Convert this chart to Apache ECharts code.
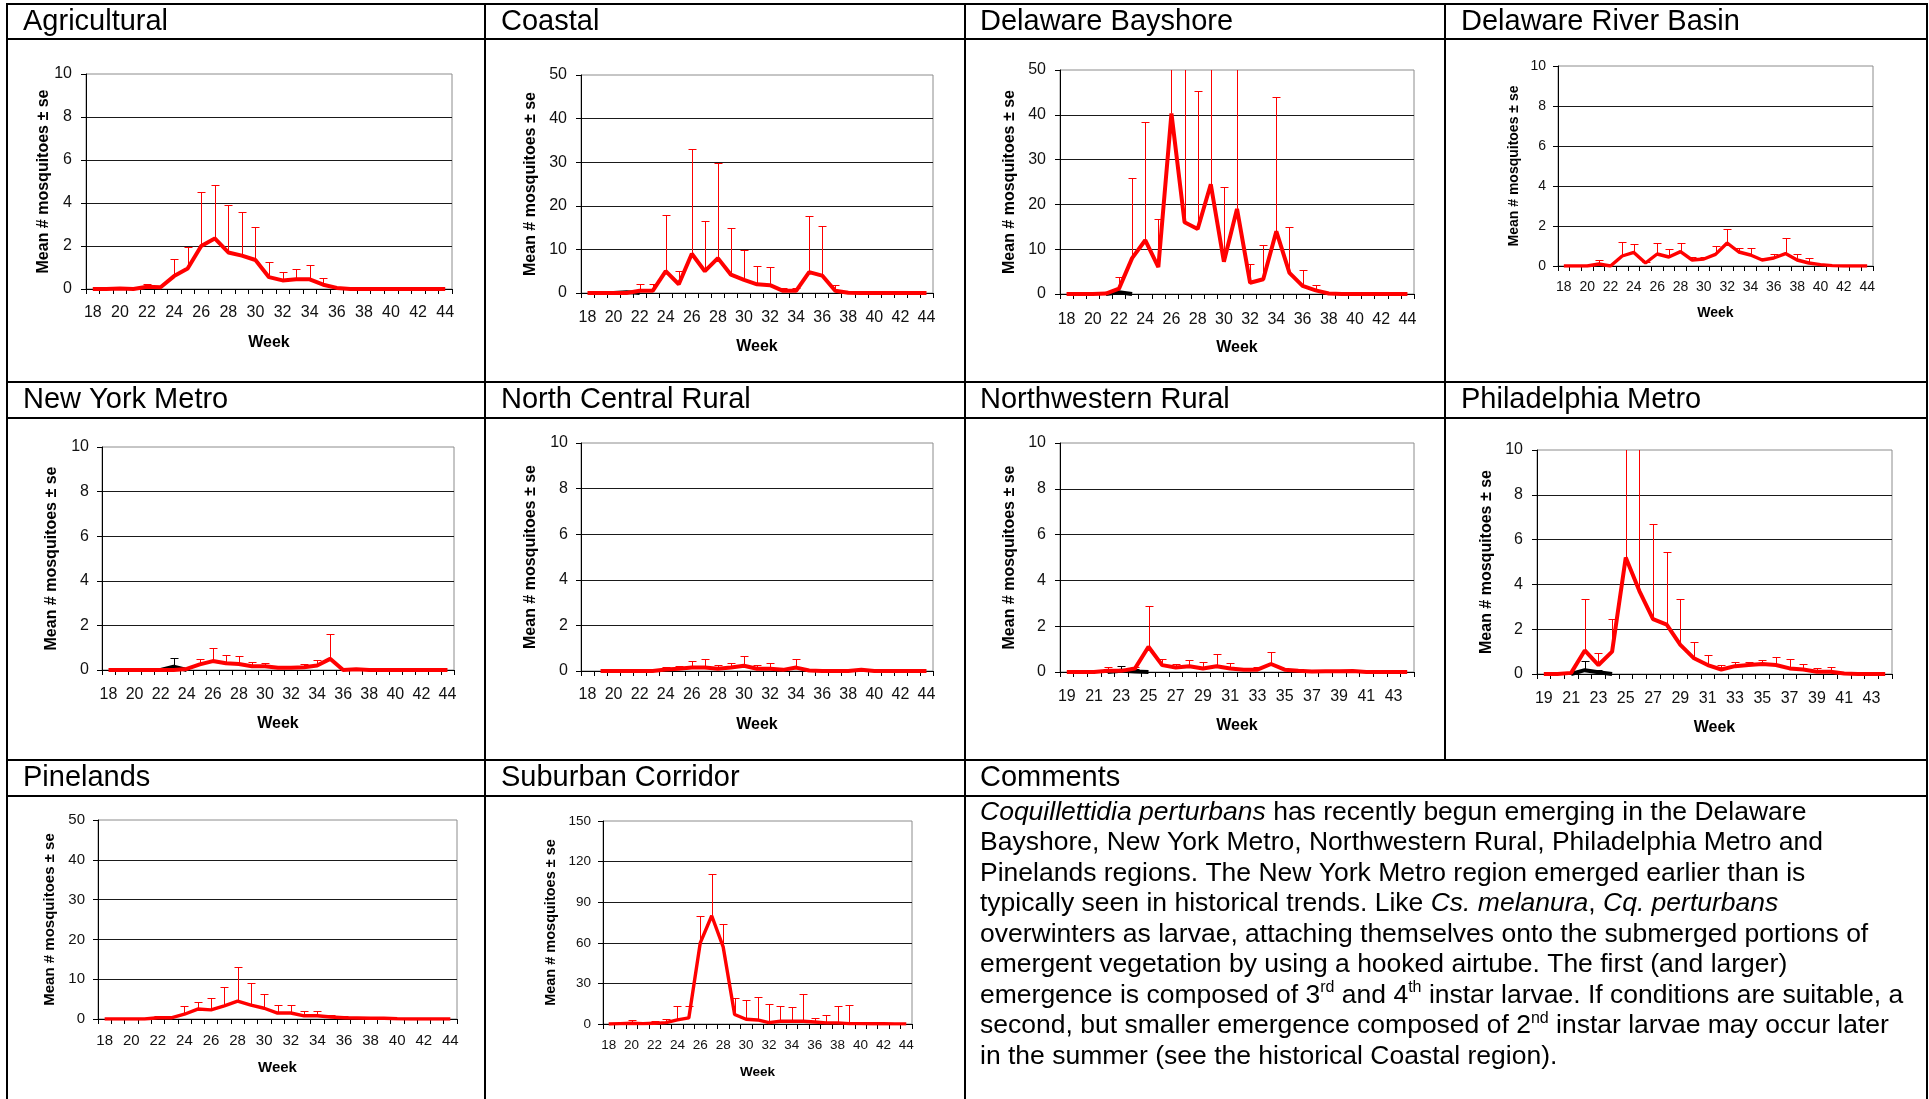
<!DOCTYPE html>
<html>
<head>
<meta charset="utf-8">
<title>Coquillettidia perturbans by region</title>
<script src="https://cdn.jsdelivr.net/npm/echarts@6.0.0/dist/echarts.min.js"></script>
<style>
  html, body { margin: 0; padding: 0; background: #fff; }
  #chart { width: 1929px; height: 1099px; }
</style>
</head>
<body>
<div id="chart"></div>
<script>
  // week categories
  const weeksFrom18 = ['18','19','20','21','22','23','24','25','26','27','28','29','30','31','32','33','34','35','36','37','38','39','40','41','42','43','44']
  const weeksFrom19 = ['19','20','21','22','23','24','25','26','27','28','29','30','31','32','33','34','35','36','37','38','39','40','41','42','43','44']

  const panelTitles = ['Agricultural', 'Coastal', 'Delaware Bayshore', 'Delaware River Basin',
    'New York Metro', 'North Central Rural', 'Northwestern Rural', 'Philadelphia Metro',
    'Pinelands', 'Suburban Corridor']

  const yAxisMax  = [10, 50, 50, 10, 10, 10, 10, 10, 50, 150]
  const yAxisStep = [2, 10, 10, 2, 2, 2, 2, 2, 10, 30]

  // mean (red line) and top of the error bar (mean + se)
  const agriMean = [0,0,0.02,0,0.1,0.08,0.6,0.95,2.0,2.35,1.7,1.55,1.35,0.55,0.4,0.45,0.45,0.2,0.05,0,0,0,0,0,0,0,0]
  const agriTop  = [null,null,null,null,0.25,null,1.4,1.95,4.5,4.85,3.9,3.6,2.9,1.25,0.8,0.95,1.1,0.5,null,null,null,null,null,null,null,null,null]

  const coastMean = [0,0,0,0,0.5,0.5,5,2,9,5,8,4.2,3,2,1.8,0.5,0.5,4.8,4,0.5,0.05,0,0,0,0,0,0]
  const coastTop  = [null,null,null,null,2,2,18,5,33,16.4,29.8,14.9,9.8,6.2,6,1.2,1.2,17.7,15.4,1.8,null,null,null,null,null,null,null]
  const coastBlackMean = [null,null,0,0.2,0,null,null,null,null,null,null,null,null,null,null,null,null,null,null,null,null,null,null,null,null,null,null]

  const bayMean = [0,0,0,0.1,1.2,8,12,6,40.3,16,14.5,24.5,7.2,19,2.5,3.3,14,4.7,1.8,0.8,0.1,0,0,0,0,0,0]
  const bayTop  = [null,null,null,null,3.7,25.8,38.5,16.8,60,60,45.4,60,23.9,60,6.8,11,43.9,15,5.4,1.9,null,null,null,null,null,null,null]
  const bayBlackMean = [null,null,null,0,0.4,0,null,null,null,null,null,null,null,null,null,null,null,null,null,null,null,null,null,null,null,null,null]

  const drbMean = [0,0,0,0.1,0,0.5,0.68,0.15,0.6,0.45,0.72,0.3,0.35,0.58,1.15,0.7,0.55,0.3,0.4,0.62,0.3,0.15,0.07,0.02,0,0,0]
  const drbTop  = [null,null,null,0.28,null,1.22,1.12,0.2,1.16,0.87,1.17,0.47,0.46,0.98,1.83,0.92,0.88,0.4,0.62,1.38,0.58,0.4,null,null,null,null,null]

  const nyMean = [0,0,0,0,0,0,0.05,0.25,0.4,0.3,0.27,0.17,0.17,0.1,0.1,0.12,0.2,0.5,0,0.03,0,0,0,0,0,0,0]
  const nyTop  = [null,null,null,null,null,null,null,0.5,0.98,0.68,0.62,0.38,0.3,0.18,0.18,0.25,0.45,1.6,null,0.08,null,null,null,null,null,null,null]
  const nyBlackMean = [null,null,null,null,0,0.15,0,null,null,null,null,null,null,null,null,null,null,null,null,null,null,null,null,null,null,null,null]
  const nyBlackTop  = [null,null,null,null,null,0.55,null,null,null,null,null,null,null,null,null,null,null,null,null,null,null,null,null,null,null,null,null]

  const ncMean = [null,0,0,0,0,0,0.07,0.1,0.15,0.15,0.1,0.15,0.23,0.1,0.1,0.05,0.15,0.02,0,0,0,0.05,0,0,0,0,0]
  const ncTop  = [null,null,null,null,null,null,0.18,0.22,0.42,0.53,0.28,0.33,0.67,0.28,0.33,null,0.53,null,null,null,null,null,null,null,null,null,null]

  const nwMean = [0,0,0,0.05,0.05,0.15,1.1,0.3,0.2,0.25,0.15,0.25,0.15,0.1,0.1,0.35,0.1,0.05,0.02,0.03,0.03,0.04,0,0,0,0]
  const nwTop  = [null,null,null,0.2,null,0.22,2.9,0.57,0.35,0.52,0.44,0.78,0.38,0.15,0.2,0.87,null,0.1,null,0.1,null,0.1,null,null,null,null]
  const nwBlackMean = [null,null,null,0,0.05,0.02,0,null,null,null,null,null,null,null,null,null,null,null,null,null,null,null,null,null,null,null]
  const nwBlackTop  = [null,null,null,null,0.28,0.12,null,null,null,null,null,null,null,null,null,null,null,null,null,null,null,null,null,null,null,null]

  const phMean = [0,0,0.05,1.05,0.4,1.0,5.2,3.7,2.45,2.2,1.3,0.7,0.4,0.2,0.35,0.4,0.45,0.4,0.25,0.2,0.1,0.1,0.02,0,0,0]
  const phTop  = [null,null,null,3.35,0.93,2.45,14,14,6.7,5.45,3.35,1.45,0.83,0.4,0.55,0.55,0.62,0.78,0.68,0.45,0.25,0.3,null,null,null,null]
  const phBlackMean = [null,null,0,0.17,0.08,0,null,null,null,null,null,null,null,null,null,null,null,null,null,null,null,null,null,null,null,null]
  const phBlackTop  = [null,null,null,0.58,0.18,null,null,null,null,null,null,null,null,null,null,null,null,null,null,null,null,null,null,null,null,null]

  const pineMean = [0,0,0,0,0.3,0.3,1.2,2.5,2.3,3.3,4.5,3.5,2.7,1.5,1.5,0.8,0.8,0.5,0.3,0.25,0.2,0.2,0.05,0,0,0,0]
  const pineTop  = [null,null,null,null,0.7,null,3.2,4.2,5.4,8.1,13,9.1,6.4,3.5,3.5,2.0,2.0,1.0,0.7,0.4,0.4,0.4,null,null,null,null,null]

  const subMean = [0,0.3,0.5,0.3,0.5,1,3,4.5,60,80,57,7,3.5,3,1,2,2,2,1.5,0.8,0.8,0.3,0.3,0.2,0.2,0.1,0.1]
  const subTop  = [null,null,3,null,2,3.5,13,13,79.5,111,74,19.5,17.5,20,14.5,13,12.3,22.5,4.5,6.5,13,14,1.3,null,0.5,null,null]

  const commentLines = [
    '{i|Coquillettidia perturbans} has recently begun emerging in the Delaware',
    'Bayshore, New York Metro, Northwestern Rural, Philadelphia Metro and',
    'Pinelands regions. The New York Metro region emerged earlier than is',
    'typically seen in historical trends. Like {i|Cs. melanura}, {i|Cq. perturbans}',
    'overwinters as larvae, attaching themselves onto the submerged portions of',
    'emergent vegetation by using a hooked airtube. The first (and larger)',
    'emergence is composed of 3{sup|rd} and 4{sup|th} instar larvae. If conditions are suitable, a',
    'second, but smaller emergence composed of 2{sup|nd} instar larvae may occur later',
    'in the summer (see the historical Coastal region).'
  ]

  const FONT = "'Liberation Sans', Arial, Helvetica, sans-serif"
  const RED = '#ff0000'

  // panel layout: plot rect [left, top, width, height], fonts, gaps, line width
  const panels = [
    {cats: weeksFrom18, mean: agriMean, top: agriTop, grid: [86, 74, 366, 215], font: 16, xm: 16, ym: 14, xg: 46, yg: 34, lw: 4},
    {cats: weeksFrom18, mean: coastMean, top: coastTop, bMean: coastBlackMean, grid: [581, 75, 352, 218], font: 16, xm: 17, ym: 14, xg: 46, yg: 42, lw: 4},
    {cats: weeksFrom18, mean: bayMean, top: bayTop, bMean: bayBlackMean, grid: [1060, 70, 354, 224], font: 16, xm: 18, ym: 14, xg: 46, yg: 42, lw: 4},
    {cats: weeksFrom18, mean: drbMean, top: drbTop, grid: [1558, 66, 315, 200], font: 14, xm: 14, ym: 12, xg: 40, yg: 37, lw: 3.4},
    {cats: weeksFrom18, mean: nyMean, top: nyTop, bMean: nyBlackMean, bTop: nyBlackTop, grid: [102, 447, 352, 223], font: 16, xm: 17, ym: 13, xg: 46, yg: 42, lw: 4},
    {cats: weeksFrom18, mean: ncMean, top: ncTop, grid: [581, 443, 352, 228], font: 16, xm: 16, ym: 13, xg: 46, yg: 42, lw: 4},
    {cats: weeksFrom19, mean: nwMean, top: nwTop, bMean: nwBlackMean, bTop: nwBlackTop, grid: [1060, 443, 354, 229], font: 16, xm: 17, ym: 14, xg: 46, yg: 42, lw: 4},
    {cats: weeksFrom19, mean: phMean, top: phTop, bMean: phBlackMean, bTop: phBlackTop, grid: [1537, 450, 355, 224], font: 16, xm: 17, ym: 14, xg: 46, yg: 42, lw: 4},
    {cats: weeksFrom18, mean: pineMean, top: pineTop, grid: [98, 820, 359, 199], font: 15, xm: 14, ym: 13, xg: 41, yg: 41, lw: 3.4},
    {cats: weeksFrom18, mean: subMean, top: subTop, grid: [603, 821, 309, 203], font: 13.5, xm: 14, ym: 12, xg: 41, yg: 45, lw: 3.4}
  ]

  // header text positions [x, centre y]
  const titlePos = [[23, 22], [501, 22], [980, 22], [1461, 22],
    [23, 400], [501, 400], [980, 400], [1461, 400],
    [23, 778], [501, 778]]

  function errorBars (idx, means, tops, color, z){
    let data = []
    for(let i = 0;i<tops.length;i++){
      if(tops[i] !== null){
        data.push([i, means[i] === null ? 0 : means[i], tops[i]])
      }
    }
    return {
      type: 'custom',
      xAxisIndex: idx,
      yAxisIndex: idx,
      clip: true,
      silent: true,
      z: z,
      encode: {x: 0, y: [1, 2]},
      data: data,
      renderItem: function (params, api){
        let lo = api.coord([api.value(0), api.value(1)])
        let hi = api.coord([api.value(0), api.value(2)])
        let x = Math.round(lo[0]) + 0.5
        let yTop = Math.round(hi[1]) + 0.5
        return {
          type: 'group',
          children: [
            {type: 'line', shape: {x1: x, y1: lo[1], x2: x, y2: yTop}, style: {stroke: color, lineWidth: 1}},
            {type: 'line', shape: {x1: x - 4, y1: yTop, x2: x + 4, y2: yTop}, style: {stroke: color, lineWidth: 1}},
          ],
        }
      },
    }
  }

  let grids = [], xAxes = [], yAxes = [], series = []
  panels.forEach(function (p, i){
    grids.push({
      left: p.grid[0], top: p.grid[1], width: p.grid[2], height: p.grid[3],
      show: true, borderColor: '#8c8c8c', borderWidth: 1, backgroundColor: 'transparent',
      containLabel: false, outerBoundsMode: 'none',
    })
    xAxes.push({
      gridIndex: i,
      type: 'category',
      data: p.cats,
      boundaryGap: true,
      name: 'Week',
      nameLocation: 'middle',
      nameGap: p.xg,
      nameMoveOverlap: false,
      nameTextStyle: {fontFamily: FONT, fontWeight: 'bold', fontSize: p.font, color: '#000'},
      axisLine: {show: true, onZero: false, lineStyle: {color: '#000', width: 1}},
      axisTick: {show: true, interval: 0, length: 5, alignWithLabel: false, lineStyle: {color: '#000'}},
      axisLabel: {interval: 1, margin: p.xm, fontFamily: FONT, fontSize: p.font, color: '#111', hideOverlap: false},
      splitLine: {show: false},
    })
    yAxes.push({
      gridIndex: i,
      type: 'value',
      min: 0,
      max: yAxisMax[i],
      interval: yAxisStep[i],
      name: 'Mean # mosquitoes ± se',
      nameLocation: 'middle',
      nameRotate: 90,
      nameGap: p.yg,
      nameMoveOverlap: false,
      nameTextStyle: {fontFamily: FONT, fontWeight: 'bold', fontSize: i === 9 ? 14.5 : p.font, color: '#000'},
      axisLine: {show: true, lineStyle: {color: '#000', width: 1}},
      axisTick: {show: true, length: 5, lineStyle: {color: '#000'}},
      axisLabel: {margin: p.ym, fontFamily: FONT, fontSize: p.font, color: '#111'},
      splitLine: {show: true, showMaxLine: false, lineStyle: {color: '#1a1a1a', width: 1}},
    })
    if(p.bMean){
      series.push({
        type: 'line', xAxisIndex: i, yAxisIndex: i, data: p.bMean, symbol: 'none', silent: true, z: 2,
        lineStyle: {color: '#000', width: p.lw},
      })
    }
    if(p.bTop){
      series.push(errorBars(i, p.bMean, p.bTop, '#000', 2))
    }
    series.push(errorBars(i, p.mean, p.top, RED, 3))
    series.push({
      type: 'line', xAxisIndex: i, yAxisIndex: i, data: p.mean, symbol: 'none', silent: true, z: 4,
      lineStyle: {color: RED, width: p.lw},
    })
  })

  // table frame
  let frame = [
    [6, 4, 1928, 4], [6, 39, 1928, 39],
    [6, 382, 1928, 382], [6, 418, 1928, 418],
    [6, 760, 1928, 760], [6, 796, 1928, 796],
    [7, 4, 7, 1099], [485, 4, 485, 1099], [965, 4, 965, 1099],
    [1445, 4, 1445, 760], [1927, 4, 1927, 1099],
  ]
  let graphics = frame.map(function (l){
    return {type: 'line', silent: true, shape: {x1: l[0], y1: l[1], x2: l[2], y2: l[3]}, style: {stroke: '#000', lineWidth: 2}}
  })
  panelTitles.forEach(function (t, i){
    graphics.push({
      type: 'text', silent: true, x: titlePos[i][0], y: titlePos[i][1],
      style: {text: t, fontFamily: FONT, fontSize: 29, fill: '#000', verticalAlign: 'middle', align: 'left'},
    })
  })
  graphics.push({
    type: 'text', silent: true, x: 980, y: 778,
    style: {text: 'Comments', fontFamily: FONT, fontSize: 29, fill: '#000', verticalAlign: 'middle', align: 'left'},
  })
  graphics.push({
    type: 'text', silent: true, x: 980, y: 797,
    style: {
      text: commentLines.join('\n'),
      fontFamily: FONT, fontSize: 26.5, lineHeight: 30.5, fill: '#000', verticalAlign: 'top', align: 'left',
      rich: {
        i: {fontFamily: FONT, fontSize: 26.5, fontStyle: 'italic', lineHeight: 30.5, fill: '#000'},
        sup: {fontFamily: FONT, fontSize: 16, lineHeight: 17, verticalAlign: 'top', fill: '#000'},
      },
    },
  })

  let myChart = echarts.init(document.getElementById('chart'), null, {renderer: 'canvas'})
  let option = {
    animation: false,
    backgroundColor: '#fff',
    textStyle: {fontFamily: FONT},
    grid: grids,
    xAxis: xAxes,
    yAxis: yAxes,
    series: series,
    graphic: graphics,
  }
  myChart.setOption(option)
</script>
</body>
</html>
